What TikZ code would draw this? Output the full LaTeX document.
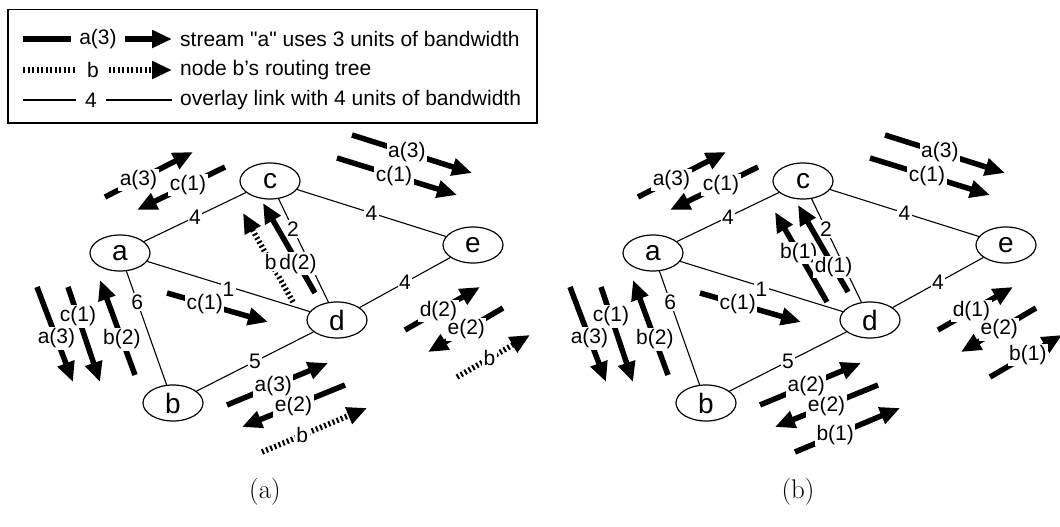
\documentclass[tikz,border=0pt]{standalone}
\usepackage{fontspec}
\newfontfamily\arialf{Liberation Sans}
\usetikzlibrary{shapes.geometric,arrows.meta}
\newcommand\labfont{\arialf\fontsize{21}{24}\selectfont}
\newcommand\vertfont{\arialf\fontsize{28}{30}\selectfont}
\newcommand\capfont{\rmfamily\fontsize{27}{30}\selectfont}
% #1 style, #2 start, #3 end, #4 pos, #5 label, #6 name
\newcommand\fa[6]{\coordinate (#6s) at #2; \coordinate (#6e) at #3;
  \draw[#1] (#6s) -- node[wl,pos=#4]{#5} (#6e);}
\newcommand\basegraph{%
  \node[vert] (a) at (120,253) {a};
  \node[vert] (b) at (173,403) {b};
  \node[vert] (c) at (270,181) {c};
  \node[vert] (d) at (337,320) {d};
  \node[vert] (e) at (473,245) {e};
  \draw[link] (a) -- node[wl]{4} (c);
  \draw[link] (c) -- node[wl]{4} (e);
  \draw[link] (a) -- node[wl,yshift=-3pt]{1} (d);
  \draw[link] (a) -- node[wl,pos=0.27]{6} (b);
  \draw[link] (c) -- node[wl,pos=0.29]{2} (d);
  \draw[link] (d) -- node[wl]{4} (e);
  \draw[link] (b) -- node[wl]{5} (d);
  \fa{flow}{(105,197)}{(193,152)}{0.38}{a(3)}{f1}
  \fa{flow}{(225,167)}{(137,210)}{0.42}{c(1)}{f2}
  \fa{flow}{(352,135)}{(472,173)}{0.457}{a(3)}{f3}
  \fa{flow}{(337,158)}{(457,195)}{0.475}{c(1)}{f4}
  \fa{flow}{(37,287)}{(73,382)}{0.54}{a(3)}{f7}
  \fa{flow}{(68,287)}{(100,382)}{0.31}{c(1)}{f8}
  \fa{flow}{(135,375)}{(100,280)}{0.374}{b(2)}{f9}
  \fa{flow}{(167,293)}{(268,322)}{0.374}{c(1)}{f10}
  \fa{flow}{(345,385)}{(242,427)}{0.5}{e(2)}{f12}
  \fa{flow}{(503,308)}{(428,352)}{0.49}{e(2)}{f15}
}
\begin{document}
\begin{tikzpicture}[x=1pt,y=-1pt,
  every node/.style={font=\labfont},
  vert/.style={draw, ellipse, line width=1.2pt, minimum width=60pt,
    minimum height=36pt, inner sep=0pt, font=\vertfont},
  link/.style={line width=1.1pt},
  wl/.style={fill=white, inner sep=1.5pt, font=\labfont},
  lg/.style={fill=white, inner xsep=8pt, inner ysep=1pt, font=\labfont},
  flow/.style={line width=5.5pt, -{Triangle[length=20pt,width=17pt]}},
  hatch/.style={flow, dash pattern=on 2pt off 2.5pt},
]
\useasboundingbox (0,0) rectangle (1060,527);
% legend
\node[draw, line width=1.5pt, minimum width=529pt, minimum height=113pt,
  anchor=north west, inner sep=0pt] (legend) at (7,9) {};
\coordinate (l1s) at (23,39); \coordinate (l1e) at (172,39);
\draw[flow] (l1s) -- node[lg,pos=0.503]{a(3)} (l1e);
\coordinate (l2s) at (23,70); \coordinate (l2e) at (172,70);
\draw[hatch] (l2s) -- node[lg,pos=0.47,inner xsep=10pt]{b} (l2e);
\coordinate (l3s) at (23,100); \coordinate (l3e) at (172,100);
\draw[link] (l3s) -- node[lg,pos=0.456,inner xsep=9pt]{4} (l3e);
\node[anchor=west,inner sep=0pt] (t1) at (180,39) {stream "a" uses 3 units of bandwidth};
\node[anchor=west,inner sep=0pt] (t2) at (180,70) {node b’s routing tree};
\node[anchor=west,inner sep=0pt] (t3) at (180,100) {overlay link with 4 units of bandwidth};
% panel (a)
\begin{scope}[name prefix=A-]
  \basegraph
  \fa{hatch}{(293,302)}{(243,213)}{0.448}{b}{f5}
  \fa{flow}{(315,293)}{(263,203)}{0.327}{d(2)}{f6}
  \fa{flow}{(227,405)}{(328,363)}{0.458}{a(3)}{f11}
  \fa{hatch}{(262,452)}{(367,408)}{0.383}{b}{f13}
  \fa{flow}{(405,330)}{(480,287)}{0.446}{d(2)}{f14}
  \fa{hatch}{(457,377)}{(530,335)}{0.443}{b}{f16}
\end{scope}
% panel (b)
\begin{scope}[xshift=533pt, name prefix=B-]
  \basegraph
  \fa{flow}{(294,302)}{(242,212)}{0.543}{b(1)}{f5}
  \fa{flow}{(315,292)}{(265,205)}{0.288}{d(1)}{f6}
  \fa{flow}{(227,405)}{(328,363)}{0.458}{a(2)}{f11}
  \fa{flow}{(262,452)}{(367,408)}{0.383}{b(1)}{f13}
  \fa{flow}{(405,330)}{(480,287)}{0.446}{d(1)}{f14}
  \fa{flow}{(457,377)}{(529,335)}{0.526}{b(1)}{f16}
\end{scope}
\node[font=\capfont] (capa) at (265,492) {(a)};
\node[font=\capfont] (capb) at (798,492) {(b)};
\end{tikzpicture}
\end{document}
